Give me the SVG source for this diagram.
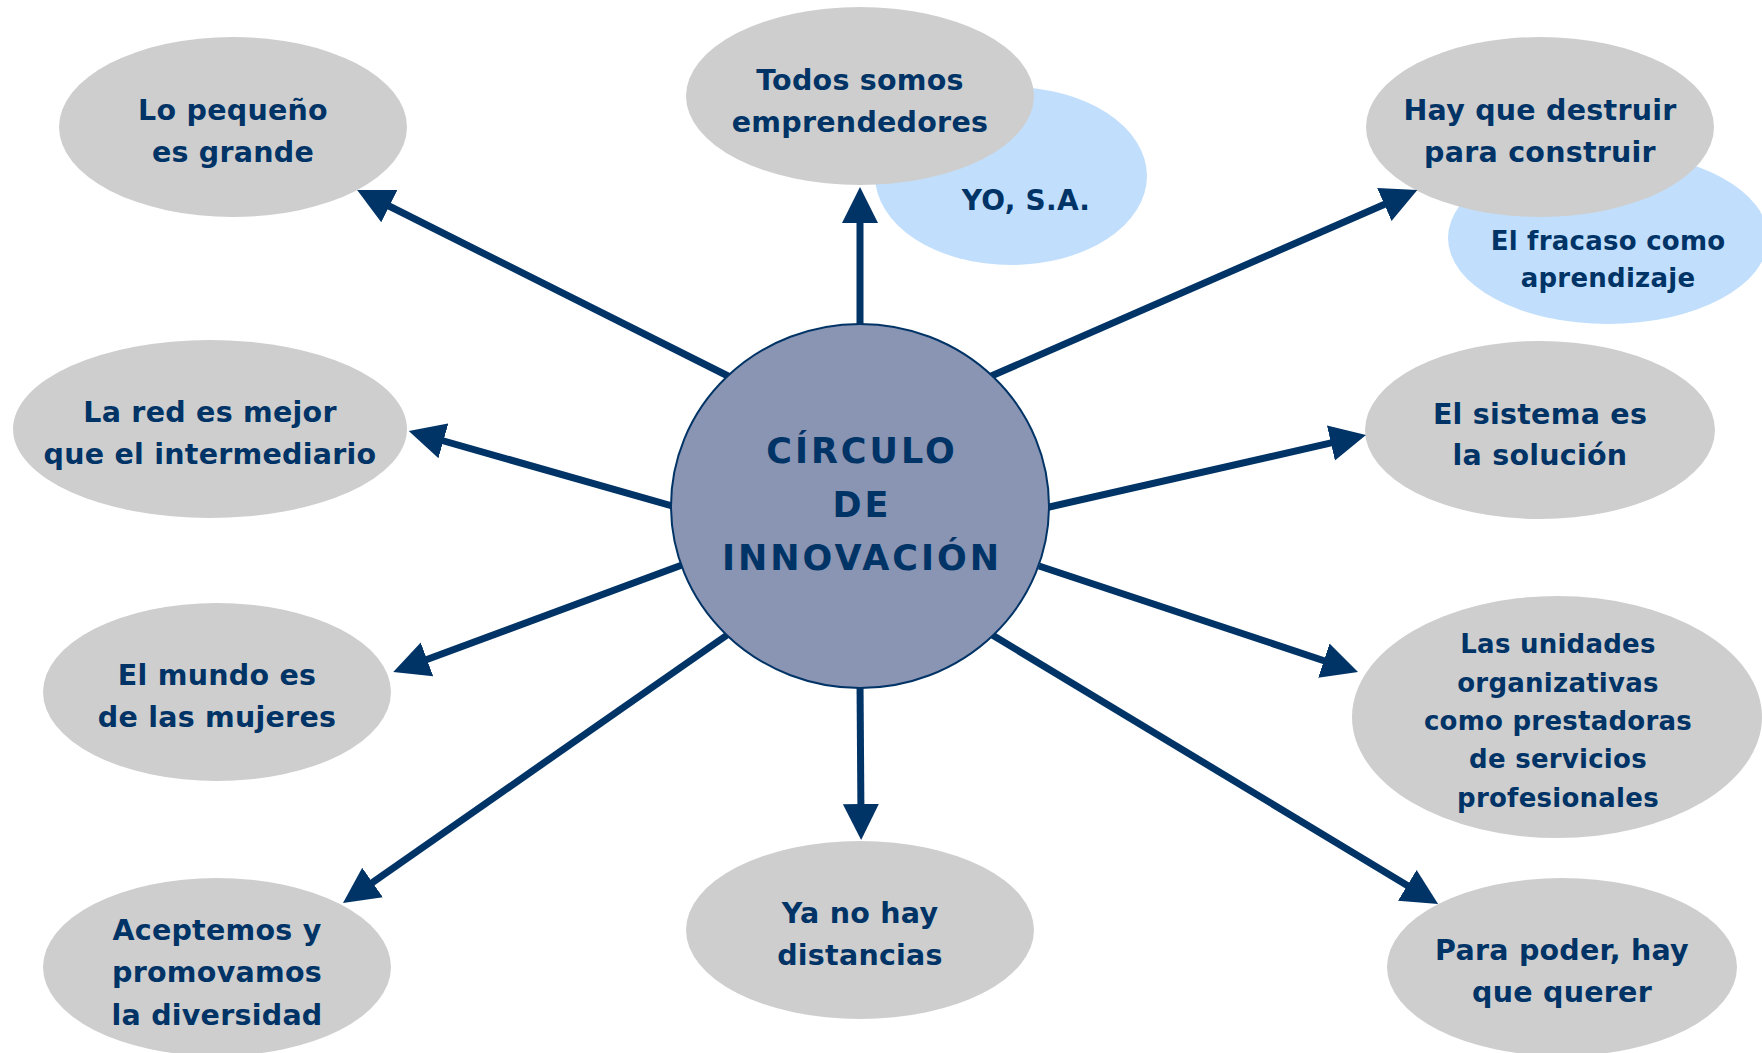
<svg xmlns="http://www.w3.org/2000/svg" width="1762" height="1053" viewBox="0 0 1762 1053">
<style>
.g{fill:#cecece;}
.b{fill:#c1dffc;}
.t{font-family:"DejaVu Sans","Verdana",sans-serif;font-weight:bold;font-size:28.5px;fill:#003366;text-anchor:middle;letter-spacing:0.25px;}
.s{font-size:26px;}
.y{font-size:28px;}
.c{font-size:35px;letter-spacing:3px;}
.ln{stroke:#003366;stroke-width:7;fill:none;marker-end:url(#ah);}
</style>
<defs>
<marker id="ah" markerUnits="userSpaceOnUse" markerWidth="38" markerHeight="38" refX="16" refY="18" orient="auto" viewBox="0 0 38 36">
<path d="M0,0 L36,18 L0,36 z" fill="#003366"/>
</marker>
</defs>
<rect width="1762" height="1053" fill="#ffffff"/>
<g id="n-yo">
<ellipse class="b" cx="1011" cy="176" rx="136" ry="89"/>
<text class="t y" x="1026" y="210">YO, S.A.</text>
</g>
<g id="n-todos">
<ellipse class="g" cx="860" cy="96" rx="174" ry="89"/>
<text class="t" x="860" y="90">Todos somos</text>
<text class="t" x="860" y="132">emprendedores</text>
</g>
<g id="n-fracaso">
<ellipse class="b" cx="1608" cy="238" rx="160" ry="86"/>
<text class="t s" x="1608" y="250">El fracaso como</text>
<text class="t s" x="1608" y="287">aprendizaje</text>
</g>
<g id="n-hay">
<ellipse class="g" cx="1540" cy="127" rx="174" ry="90"/>
<text class="t" x="1540" y="120">Hay que destruir</text>
<text class="t" x="1540" y="162">para construir</text>
</g>
<g id="n-pequeno">
<ellipse class="g" cx="233" cy="127" rx="174" ry="90"/>
<text class="t" x="233" y="120">Lo pequeño</text>
<text class="t" x="233" y="162">es grande</text>
</g>
<g id="n-red">
<ellipse class="g" cx="210" cy="429" rx="197" ry="89"/>
<text class="t" x="210" y="422">La red es mejor</text>
<text class="t" x="210" y="464">que el intermediario</text>
</g>
<g id="n-sistema">
<ellipse class="g" cx="1540" cy="430" rx="175" ry="89"/>
<text class="t" x="1540" y="424">El sistema es</text>
<text class="t" x="1540" y="465">la solución</text>
</g>
<g id="n-mundo">
<ellipse class="g" cx="217" cy="692" rx="174" ry="89"/>
<text class="t" x="217" y="685">El mundo es</text>
<text class="t" x="217" y="727">de las mujeres</text>
</g>
<g id="n-unidades">
<ellipse class="g" cx="1557" cy="717" rx="205" ry="121"/>
<text class="t s" x="1558" y="653">Las unidades</text>
<text class="t s" x="1558" y="692">organizativas</text>
<text class="t s" x="1558" y="730">como prestadoras</text>
<text class="t s" x="1558" y="768">de servicios</text>
<text class="t s" x="1558" y="807">profesionales</text>
</g>
<g id="n-para">
<ellipse class="g" cx="1562" cy="967" rx="175" ry="89"/>
<text class="t" x="1562" y="960">Para poder, hay</text>
<text class="t" x="1562" y="1002">que querer</text>
</g>
<g id="n-distancias">
<ellipse class="g" cx="860" cy="930" rx="174" ry="89"/>
<text class="t" x="860" y="923">Ya no hay</text>
<text class="t" x="860" y="965">distancias</text>
</g>
<g id="n-aceptemos">
<ellipse class="g" cx="217" cy="967" rx="174" ry="89"/>
<text class="t" x="217" y="940">Aceptemos y</text>
<text class="t" x="217" y="982">promovamos</text>
<text class="t" x="217" y="1025">la diversidad</text>
</g>
<g id="connectors">
<line class="ln" x1="860" y1="330" x2="860" y2="207"/>
<line class="ln" x1="730" y1="377" x2="375" y2="199"/>
<line class="ln" x1="989" y1="377" x2="1399" y2="198"/>
<line class="ln" x1="676" y1="507" x2="428" y2="436.5"/>
<line class="ln" x1="1045" y1="508" x2="1346.5" y2="439.4"/>
<line class="ln" x1="682" y1="565" x2="412" y2="665"/>
<line class="ln" x1="1039" y1="566" x2="1339" y2="665.7"/>
<line class="ln" x1="730" y1="633" x2="359.4" y2="891.6"/>
<line class="ln" x1="860" y1="682" x2="861" y2="820"/>
<line class="ln" x1="989" y1="633" x2="1421" y2="893.7"/>
</g>
<g id="n-center">
<ellipse cx="860" cy="506" rx="189" ry="182" fill="#8a94b3" stroke="#003366" stroke-width="2"/>
<text class="t c" x="862" y="463">CÍRCULO</text>
<text class="t c" x="862" y="517">DE</text>
<text class="t c" x="862" y="570">INNOVACIÓN</text>
</g>
</svg>
